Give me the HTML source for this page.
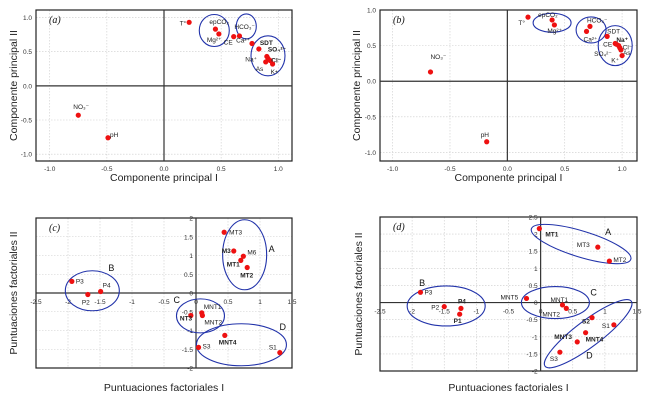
<!DOCTYPE html>
<html><head><meta charset="utf-8">
<style>
body{margin:0;background:#fff;}
svg{display:block;font-family:"Liberation Sans",Arial,sans-serif;}
</style></head>
<body>
<svg id="fig" width="650" height="403" viewBox="0 0 650 403"></svg>
<script>
// ---- data ----
const aLabels=["T°","epCO₂","Mg²⁺","CE","HCO₃⁻","Ca²⁺","SDT","SO₄²⁻","Na⁺","Cl⁻","As","K+","NO₃⁻","pH"];
const aX=[0.22,0.45,0.48,0.61,0.66,0.77,0.83,0.90,0.91,0.93,0.89,0.95,-0.75,-0.49];
const aY=[0.93,0.83,0.76,0.72,0.73,0.62,0.54,0.43,0.40,0.37,0.35,0.32,-0.43,-0.76];
const bLabels=["T°","epCO₂","Mg²⁺","Ca²⁺","HCO₃⁻","SDT","CE","Na⁺","Cl⁻","SO₄²⁻","As","K⁺","NO₃⁻","pH"];
const bX=[0.18,0.39,0.41,0.69,0.72,0.87,0.94,0.95,0.97,0.98,0.99,1.0,-0.67,-0.18];
const bY=[0.90,0.86,0.79,0.70,0.77,0.63,0.53,0.52,0.50,0.47,0.44,0.36,0.13,-0.85];
const cLabels=["P3","P2","P4","MT3","M3","M6","MT1","MT2","NT3","MNT1","MNT2","MNT4","S3","S1"];
const cX=[-1.94,-1.69,-1.49,0.44,0.59,0.74,0.70,0.80,-0.08,0.09,0.10,0.45,0.04,1.31];
const cY=[0.31,-0.04,0.04,1.62,1.12,0.98,0.87,0.68,-0.60,-0.53,-0.60,-1.13,-1.45,-1.59];
const dLabels=["MT1","MT3","MT2","P3","P2","P4","P1","MNT5","MNT1","MNT2","S2","S1","MNT4","MNT3","S3"];
const dX=[-0.02,0.89,1.07,-1.87,-1.50,-1.24,-1.26,-0.22,0.34,0.40,0.80,1.14,0.70,0.57,0.30];
const dY=[2.16,1.62,1.21,0.30,-0.12,-0.17,-0.34,0.12,-0.07,-0.17,-0.44,-0.65,-0.88,-1.15,-1.45];
const abTicks=[-1.0,-0.5,0.0,0.5,1.0];
const abTickText=["-1.0","-0.5","0.0","0.5","1.0"];
const cdXTicks=[-2.5,-2,-1.5,-1,-0.5,0,0.5,1,1.5];
const cdXTickText=["-2.5","-2","-1.5","-1","-0.5","0","0.5","1","1.5"];
const cYTicks=[-2,-1.5,-1,-0.5,0,0.5,1,1.5,2];
const cYTickText=["-2","-1.5","-1","-0.5","0","0.5","1","1.5","2"];
const dYTicks=[-2,-1.5,-1,-0.5,0,0.5,1,1.5,2,2.5];
const dYTickText=["-2","-1.5","-1","-0.5","0","0.5","1","1.5","2","2.5"];
// ---- layout / style (not data) ----
const NS="http://www.w3.org/2000/svg";
const svg=document.getElementById('fig');
function mk(tag,attrs,parent,text){const e=document.createElementNS(NS,tag);for(const k in attrs)e.setAttribute(k,attrs[k]);if(text!==undefined)e.textContent=text;(parent||svg).appendChild(e);return e;}
function panel(cfg){
  const g=mk('g',{});
  
  
  const sx=v=>cfg.x0+(v-cfg.xmin)/(cfg.xmax-cfg.xmin)*(cfg.x1-cfg.x0);
  const sy=v=>cfg.y1-(v-cfg.ymin)/(cfg.ymax-cfg.ymin)*(cfg.y1-cfg.y0);
  cfg.xt.forEach(t=>{const l=mk('line',{x1:sx(t),x2:sx(t),y1:cfg.y0,y2:cfg.y1,stroke:'#ccc','stroke-width':0.6,'stroke-dasharray':'1.5,1.5'},g);});
  cfg.yt.forEach(t=>{const l=mk('line',{x1:cfg.x0,x2:cfg.x1,y1:sy(t),y2:sy(t),stroke:'#ccc','stroke-width':0.6,'stroke-dasharray':'1.5,1.5'},g);});
  const fr=mk('rect',{x:cfg.x0,y:cfg.y0,width:cfg.x1-cfg.x0,height:cfg.y1-cfg.y0,fill:'none',stroke:'#222','stroke-width':1.2},g);
  
  const zx=mk('line',{x1:cfg.x0,x2:cfg.x1,y1:sy(0),y2:sy(0),stroke:'#333','stroke-width':1.2},g);
  
  const zy=mk('line',{x1:sx(0),x2:sx(0),y1:cfg.y0,y2:cfg.y1,stroke:'#333','stroke-width':1.2},g);
  
  cfg.xt.forEach((t,i)=>{const ty=cfg.inner?sy(0)+11:cfg.y1+10;const e=mk('text',{x:sx(t),y:ty,'font-size':6.5,'text-anchor':'middle',fill:'#333'},g,cfg.xtt[i]);});
  cfg.yt.forEach((t,i)=>{const tx=cfg.inner?sx(0)-3:cfg.x0-4;const e=mk('text',{x:tx,y:sy(t)+2.5,'font-size':6.5,'text-anchor':'end',fill:'#333'},g,cfg.ytt[i]);});
  cfg.ell.forEach(el=>{const cx=sx(el[0]),cy=sy(el[1]);const e=mk('ellipse',{cx:cx,cy:cy,rx:el[2],ry:el[3],fill:'none',stroke:'#2233aa','stroke-width':1.1,transform:'rotate('+(el[4]||0)+' '+cx+' '+cy+')'},g);
    if(el[5]){const t=mk('text',{x:cx+el[6],y:cy+el[7],'font-size':9,fill:'#111'},g,el[5]);}});
  cfg.X.forEach((v,i)=>{const px=sx(v),py=sy(cfg.Y[i]);const c=mk('circle',{cx:px,cy:py,r:cfg.r,fill:'#ee1111'},g);
    const o=cfg.off[i]||[3,-3];const t=mk('text',{x:px+o[0],y:py+o[1],'font-size':cfg.fs,'font-weight':o[2]?'bold':'normal','text-anchor':o[3]||'start',fill:'#222'},g,cfg.L[i]);});
  const pl=mk('text',{x:cfg.x0+13,y:cfg.y0+13,'font-size':10,'font-style':'italic','font-family':'Liberation Serif, serif',fill:'#111'},g,'('+cfg.id+')');
  
  const xt=mk('text',{x:(cfg.x0+cfg.x1)/2,y:cfg.xtY,'font-size':cfg.tfs,'text-anchor':'middle',fill:'#222'},g,cfg.xTitle);
  
  const yc=(cfg.y0+cfg.y1)/2;
  const yt=mk('text',{x:cfg.ytX,y:yc,'font-size':cfg.tfs,'text-anchor':'middle',fill:'#222',transform:'rotate(-90 '+cfg.ytX+' '+yc+')'},g,cfg.yTitle);
  
}
panel({id:'a',x0:36,x1:292,y0:10,y1:161,xmin:-1.12,xmax:1.12,ymin:-1.10,ymax:1.11,xt:abTicks,xtt:abTickText,yt:abTicks,ytt:abTickText,
 X:aX,Y:aY,L:aLabels,r:2.6,fs:6.5,tfs:10.5,xTitle:'Componente principal I',yTitle:'Componente principal II',xtY:181,ytX:17,
 off:[[-3,3,0,'end'],[-6,-5],[-12,8],[-1,8,0,'end'],[-5,-7],[-2,-1,0,'end'],[1,-4,1],[1,-5,1],[-11,3,0,'end'],[1,2,1],[-10,9],[-2,10],[-5,-6],[2,-1]],
 ell:[[0.44,0.81,15,16],[0.72,0.87,10,12.5],[0.91,0.44,17,20]]});
panel({id:'b',x0:380,x1:637,y0:10,y1:161,xmin:-1.11,xmax:1.13,ymin:-1.12,ymax:1.0,xt:abTicks,xtt:abTickText,yt:abTicks,ytt:abTickText,
 X:bX,Y:bY,L:bLabels,r:2.6,fs:6.5,tfs:10.5,xTitle:'Componente principal I',yTitle:'Componente principal II',xtY:181,ytX:360,
 off:[[-3,8,0,'end'],[-14,-3],[-7,8],[-3,10],[-3,-4],[0,-3],[-3,3,0,'end'],[0,-2,1],[4,4],[-8,8,0,'end'],[2,5],[-3,7,0,'end'],[0,-13],[-6,-5]],
 ell:[[0.39,0.82,19,9.5],[0.73,0.72,15,13],[0.94,0.50,17,20]]});
panel({id:'c',x0:36,x1:292,y0:218,y1:368,xmin:-2.5,xmax:1.5,ymin:-2,ymax:2,inner:true,xt:cdXTicks,xtt:cdXTickText,yt:cYTicks,ytt:cYTickText,
 X:cX,Y:cY,L:cLabels,r:2.6,fs:6.5,tfs:10.5,xTitle:'Puntuaciones factoriales I',yTitle:'Puntuaciones factoriales II',xtY:391,ytX:17,
 off:[[4,2],[-6,10],[2,-4],[5,2],[-12,2,1],[4,-2],[-14,6,1],[-7,10,1],[-11,5,1],[2,-4],[2,9],[-6,9,1],[4,1],[-11,-3]],
 ell:[[0.76,1.02,22,35,0,'A',24,-3],[-1.62,0.06,27,20,0,'B',16,-20],[0.07,-0.61,24,17,0,'C',-27,-13],[0.71,-1.38,45,21,0,'D',38,-15]]});
panel({id:'d',x0:380,x1:637,y0:217,y1:371,xmin:-2.5,xmax:1.5,ymin:-2,ymax:2.5,inner:true,xt:cdXTicks,xtt:cdXTickText,yt:dYTicks,ytt:dYTickText,
 X:dX,Y:dY,L:dLabels,r:2.6,fs:6.5,tfs:10.5,xTitle:'Puntuaciones factoriales I',yTitle:'Puntuaciones factoriales II',xtY:391,ytX:362,
 off:[[6,8,1],[-21,0],[4,1],[4,2],[-13,3],[-3,-5,1],[-6,9,1],[-26,1],[-12,-3],[-24,8],[-10,6,1],[-12,3],[0,9,1],[-23,-3,1],[-10,9]],
 ell:[[0.63,1.71,52,13,17,'A',24,-9],[-1.47,-0.10,39,20,0,'B',-27,-20],[0.23,0.0,34,16,0,'C',35,-7],[0.74,-0.91,54,13,-37,'D',-2,25]]});
</script>
</body></html>
